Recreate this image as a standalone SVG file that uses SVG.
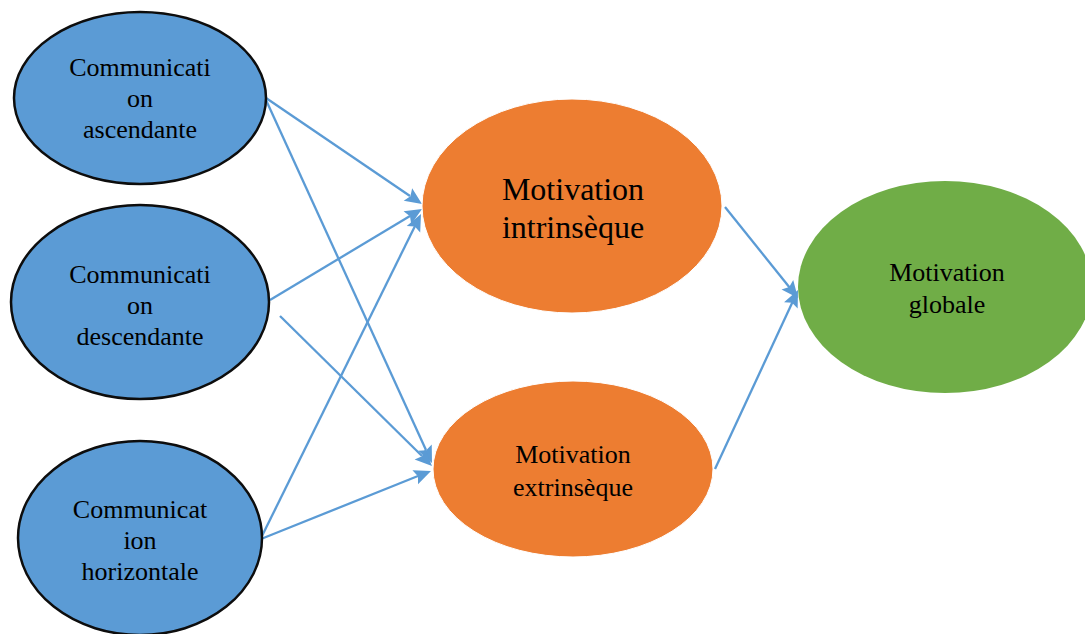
<svg xmlns="http://www.w3.org/2000/svg" xmlns:xlink="http://www.w3.org/1999/xlink" width="1085" height="634" viewBox="0 0 1085 634">
  <style>
    .comm { fill: #5B9BD5; stroke: #0D0D0D; stroke-width: 2.5; }
    .orange { fill: #ED7D31; stroke: #FFFFFF; stroke-width: 1; }
    .green { fill: #70AD47; stroke: none; }
    text { font-family: "Liberation Serif", "Times New Roman", serif; fill: #000; text-anchor: middle; }
    .t26 { font-size: 26px; }
    .t32 { font-size: 32px; }
    .link { stroke: #5B9BD5; stroke-width: 2.3; fill: none; }
    .head { fill: #5B9BD5; stroke: none; }
  </style>
  <defs>
    <!-- arrowhead with its tip at the origin, pointing along +x -->
    <path id="ah" class="head" d="M0,0 L-17,-7.5 L-14,0 L-17,7.5 Z"/>
  </defs>

  <rect width="1085" height="634" fill="#FFFFFF"/>

  <!-- connectors -->
  <g id="connectors">
    <line class="link" x1="266" y1="98" x2="410" y2="196"/>
    <use href="#ah" xlink:href="#ah" transform="translate(422,204) rotate(34.2)"/>
    <line class="link" x1="266" y1="100" x2="426" y2="450"/>
    <use href="#ah" xlink:href="#ah" transform="translate(432,463) rotate(65.4)"/>
    <line class="link" x1="270" y1="300" x2="410" y2="216"/>
    <use href="#ah" xlink:href="#ah" transform="translate(422,209) rotate(-30.9)"/>
    <line class="link" x1="280" y1="316" x2="422" y2="456"/>
    <use href="#ah" xlink:href="#ah" transform="translate(432,466) rotate(44.6)"/>
    <line class="link" x1="261" y1="538" x2="415" y2="226"/>
    <use href="#ah" xlink:href="#ah" transform="translate(421,214) rotate(-63.7)"/>
    <line class="link" x1="261" y1="539" x2="418" y2="476"/>
    <use href="#ah" xlink:href="#ah" transform="translate(431,471) rotate(-21.8)"/>
    <line class="link" x1="725" y1="207" x2="790" y2="288"/>
    <use href="#ah" xlink:href="#ah" transform="translate(798,298) rotate(51.3)"/>
    <line class="link" x1="715" y1="469" x2="793" y2="301"/>
    <use href="#ah" xlink:href="#ah" transform="translate(798,290) rotate(-65.1)"/>
  </g>

  <g id="node-ascendante">
    <ellipse class="comm" cx="140" cy="98" rx="126" ry="86"/>
    <text class="t26" x="140" y="76">Communicati</text>
    <text class="t26" x="140" y="107">on</text>
    <text class="t26" x="140" y="138">ascendante</text>
  </g>

  <g id="node-descendante">
    <ellipse class="comm" cx="140" cy="302" rx="129" ry="97"/>
    <text class="t26" x="140" y="283">Communicati</text>
    <text class="t26" x="140" y="314">on</text>
    <text class="t26" x="140" y="345">descendante</text>
  </g>

  <g id="node-horizontale">
    <ellipse class="comm" cx="140" cy="538" rx="122" ry="97"/>
    <text class="t26" x="140" y="518">Communicat</text>
    <text class="t26" x="140" y="549">ion</text>
    <text class="t26" x="140" y="580">horizontale</text>
  </g>

  <g id="node-intrinseque">
    <ellipse class="orange" cx="572" cy="206" rx="150" ry="107"/>
    <text class="t32" x="573" y="200">Motivation</text>
    <text class="t32" x="573" y="238">intrinsèque</text>
  </g>

  <g id="node-extrinseque">
    <ellipse class="orange" cx="573" cy="469" rx="140" ry="88"/>
    <text class="t26" x="573" y="463">Motivation</text>
    <text class="t26" x="573" y="496">extrinsèque</text>
  </g>

  <g id="node-globale">
    <ellipse class="green" cx="945" cy="287" rx="147" ry="106"/>
    <text class="t26" x="947" y="281">Motivation</text>
    <text class="t26" x="947" y="313">globale</text>
  </g>
</svg>
